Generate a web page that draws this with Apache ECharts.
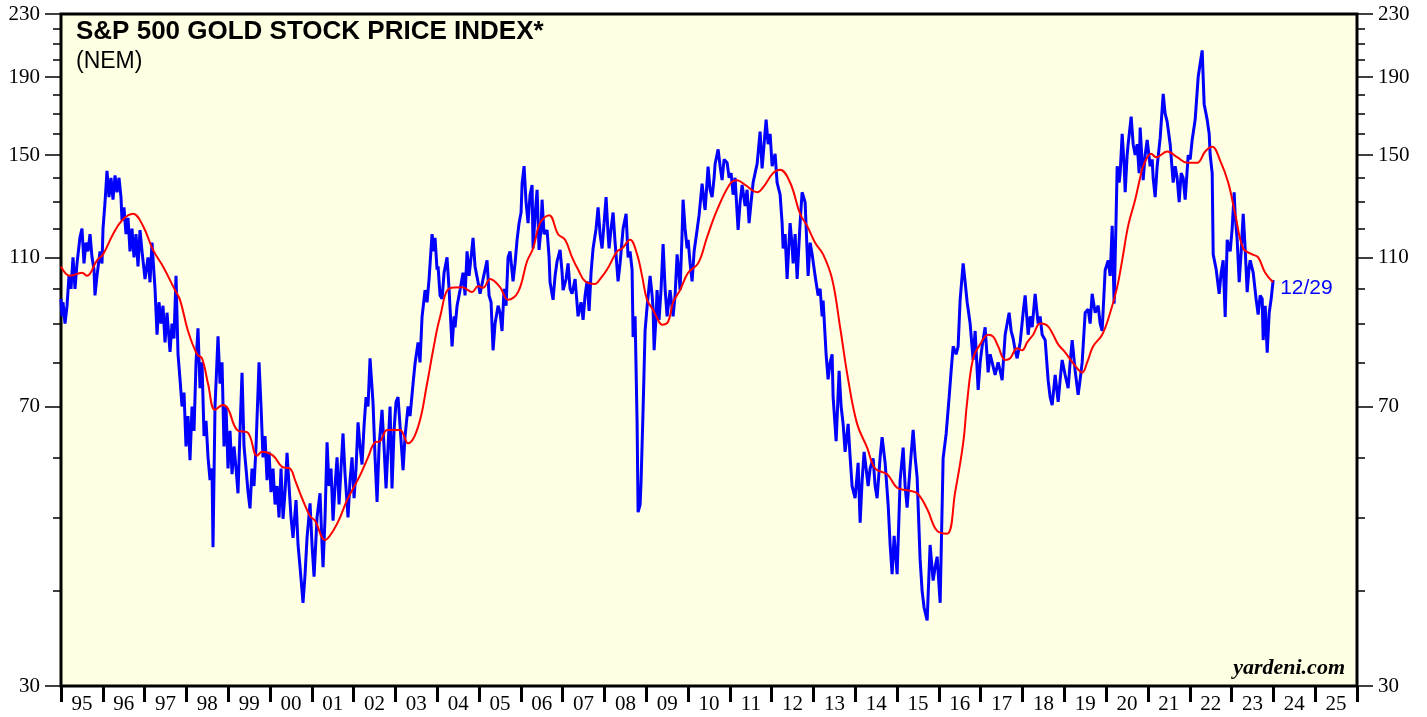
<!DOCTYPE html>
<html>
<head>
<meta charset="utf-8">
<script src="https://cdn.jsdelivr.net/npm/echarts@6.0.0/dist/echarts.min.js"></script>
<style>
html,body{margin:0;padding:0;background:#fff;}
#chart{width:1427px;height:717px;}
</style>
</head>
<body>
<div id="chart"></div>
<script>
// ---- DATA ----
const yearLabels = ['95','96','97','98','99','00','01','02','03','04','05','06','07','08','09','10','11','12','13','14','15','16','17','18','19','20','21','22','23','24','25'];
const yMajorTicks = [30, 70, 110, 150, 190, 230];
const yMinorTicks = [40, 50, 60, 80, 90, 100, 120, 130, 140, 160, 170, 180, 200, 210, 220];
const endLabelText = '12/29';

// S&P 500 Gold stock price index (blue), decimal-year dates
const blueDates = [
1995.000,1995.024,1995.048,1995.096,1995.144,1995.191,1995.239,1995.287,1995.335,1995.383,1995.455,1995.502,1995.550,1995.598,1995.646,1995.694,1995.742,1995.789,1995.813,1995.861,1995.933,1995.981,
1996.005,1996.053,1996.100,1996.148,1996.196,1996.244,1996.292,1996.340,1996.388,1996.435,1996.459,1996.507,1996.555,1996.603,1996.651,1996.698,1996.746,1996.794,1996.842,1996.890,1996.938,
1997.010,1997.081,1997.129,1997.177,1997.249,1997.297,1997.344,1997.392,1997.440,1997.488,1997.536,1997.608,1997.655,1997.703,1997.751,1997.799,1997.847,1997.895,1997.943,1997.990,
1998.038,1998.086,1998.134,1998.182,1998.230,1998.277,1998.325,1998.373,1998.421,1998.469,1998.517,1998.565,1998.612,1998.636,1998.684,1998.756,1998.804,1998.852,1998.899,1998.947,1998.995,
1999.043,1999.091,1999.139,1999.187,1999.234,1999.282,1999.330,1999.378,1999.426,1999.474,1999.521,1999.569,1999.617,1999.665,1999.737,1999.785,1999.832,1999.880,1999.928,1999.976,
2000.024,2000.072,2000.120,2000.167,2000.215,2000.263,2000.311,2000.359,2000.407,2000.455,2000.502,2000.550,2000.622,2000.670,2000.718,2000.766,2000.789,2000.837,2000.885,2000.957,
2001.005,2001.053,2001.124,2001.196,2001.244,2001.268,2001.316,2001.364,2001.411,2001.459,2001.507,2001.555,2001.603,2001.651,2001.698,2001.746,2001.794,2001.866,2001.914,2001.962,
2002.010,2002.057,2002.105,2002.153,2002.201,2002.249,2002.297,2002.344,2002.392,2002.440,2002.464,2002.512,2002.560,2002.608,2002.679,2002.727,2002.775,2002.823,2002.871,2002.918,2002.966,
2003.014,2003.062,2003.110,2003.182,2003.230,2003.301,2003.349,2003.421,2003.469,2003.541,2003.588,2003.636,2003.708,2003.756,2003.804,2003.875,2003.923,2003.947,2003.995,
2004.019,2004.067,2004.115,2004.163,2004.234,2004.282,2004.354,2004.402,2004.426,2004.474,2004.545,2004.617,2004.665,2004.713,2004.761,2004.809,2004.856,2004.904,2004.976,
2005.024,2005.096,2005.191,2005.239,2005.287,2005.335,2005.383,2005.455,2005.502,2005.550,2005.598,2005.646,2005.694,2005.742,2005.813,2005.861,2005.909,2005.957,
2006.005,2006.029,2006.077,2006.124,2006.172,2006.220,2006.268,2006.292,2006.340,2006.388,2006.435,2006.483,2006.507,2006.555,2006.627,2006.675,2006.698,2006.770,2006.818,2006.866,2006.938,2006.986,
2007.010,2007.081,2007.129,2007.177,2007.225,2007.297,2007.368,2007.440,2007.488,2007.536,2007.584,2007.632,2007.679,2007.727,2007.799,2007.847,2007.895,2007.942,2007.990,
2008.038,2008.086,2008.110,2008.158,2008.206,2008.254,2008.325,2008.373,2008.445,2008.517,2008.565,2008.612,2008.660,2008.684,2008.732,2008.780,2008.804,2008.852,2008.876,2008.923,2008.947,2008.971,
2009.019,2009.091,2009.139,2009.163,2009.187,2009.234,2009.258,2009.306,2009.354,2009.402,2009.450,2009.498,2009.569,2009.641,2009.689,2009.737,2009.785,2009.808,2009.856,2009.880,2009.928,2009.976,
2010.000,2010.048,2010.096,2010.144,2010.215,2010.263,2010.335,2010.383,2010.407,2010.478,2010.526,2010.574,2010.622,2010.646,2010.718,2010.766,2010.813,2010.861,2010.933,2010.981,
2011.029,2011.077,2011.124,2011.196,2011.244,2011.292,2011.364,2011.411,2011.459,2011.507,2011.555,2011.603,2011.651,2011.722,2011.770,2011.818,2011.866,2011.914,2011.962,
2012.010,2012.081,2012.129,2012.201,2012.249,2012.273,2012.321,2012.368,2012.440,2012.488,2012.512,2012.560,2012.608,2012.679,2012.727,2012.799,2012.871,2012.919,2012.967,
2013.038,2013.110,2013.158,2013.206,2013.230,2013.301,2013.349,2013.397,2013.445,2013.469,2013.541,2013.612,2013.660,2013.708,2013.756,2013.828,2013.876,2013.923,2013.995,
2014.067,2014.115,2014.163,2014.210,2014.258,2014.306,2014.354,2014.426,2014.474,2014.521,2014.593,2014.641,2014.713,2014.785,2014.833,2014.880,2014.928,
2015.000,2015.072,2015.144,2015.191,2015.239,2015.311,2015.383,2015.431,2015.478,2015.550,2015.598,2015.646,2015.718,2015.789,2015.861,2015.909,2015.957,
2016.029,2016.100,2016.172,2016.244,2016.292,2016.340,2016.411,2016.459,2016.507,2016.579,2016.627,2016.675,2016.746,2016.818,2016.866,2016.938,2016.986,
2017.033,2017.105,2017.177,2017.225,2017.273,2017.344,2017.416,2017.464,2017.512,2017.584,2017.632,2017.679,2017.727,2017.775,2017.823,2017.871,2017.943,
2018.014,2018.062,2018.134,2018.182,2018.230,2018.301,2018.373,2018.421,2018.469,2018.541,2018.612,2018.660,2018.708,2018.780,2018.852,2018.900,2018.947,
2019.019,2019.091,2019.139,2019.187,2019.258,2019.330,2019.378,2019.426,2019.498,2019.569,2019.617,2019.665,2019.737,2019.809,2019.856,2019.904,2019.976,
2020.048,2020.096,2020.144,2020.191,2020.239,2020.263,2020.311,2020.335,2020.383,2020.431,2020.455,2020.502,2020.526,2020.598,2020.646,2020.694,2020.742,2020.789,2020.813,2020.885,2020.933,2020.981,
2021.053,2021.100,2021.124,2021.172,2021.220,2021.292,2021.364,2021.411,2021.459,2021.531,2021.603,2021.651,2021.698,2021.746,2021.794,2021.842,2021.890,2021.962,
2022.010,2022.057,2022.129,2022.201,2022.249,2022.297,2022.344,2022.416,2022.464,2022.488,2022.536,2022.560,2022.632,2022.703,2022.751,2022.799,2022.847,2022.895,2022.967,
2023.014,2023.062,2023.086,2023.134,2023.182,2023.230,2023.278,2023.325,2023.373,2023.421,2023.445,2023.517,2023.589,2023.636,2023.684,2023.732,2023.756,2023.804,2023.852,2023.900,2023.947,2023.995
];
const blueValues = [
97,92,96,90,95,104,100,110,100,108,117,120,108,115,112,118,110,106,98,104,112,108,
120,130,143,132,140,131,141,134,140,132,123,128,118,124,112,120,110,118,107,119.5,112,
103,110,102,115,100,87,96,90,95,85,93,82.6,90,86,104,82,76,70,73,62,
68,59.5,70,65,80,88.7,74,80,64,67,60,56,58,45.7,70,86.6,75,80,62,70,58,
65,57,62,58,53.8,65,77.5,62,58,54,51.4,58,55,62,80,70,60,64,56,61,
54,58,52,55,50,58,49.8,54,60.8,55,50,47,52.7,46,43,40,38.6,42,47,52.2,
46,41.8,50,53.8,46,43,50,62.8,55,58,49.5,55,60,52,58,64.5,57,50,56,60,
53,58,66.7,62,58.7,66,72,70,81,74,70.7,60,52.4,62,69.3,62,54.6,62,70,54.6,65,
71,72,66,57.7,64,70,68,75,79.8,85,80,91.8,99.6,96,103,118,112,116.7,106,
107,98,97,105,110,100,84,92,89,95,99.6,105,98,112,104,110,116.7,107,102,
98.5,103,109,98,96,83,90,95,93,88,100,95,110,112,102.3,108,116,122,
126,137.5,145,130,122,133,137,113,125,135,112.5,120,131,118,119.5,110,102,96.7,104,108.7,112.5,105,
99.6,103,108,100,98.5,103,92,96,91,98,102.3,93.5,105,113,120,128,118,113,122,
132,118,113,120,126,115,102.3,108,120,125.5,110,112,106,86.4,92,66.6,50.8,52,56,69.3,78,88,
94.7,104,98,94,83,92,99.6,91,100,114.5,100,92,99.6,92,98,111,104,99.6,118,131,120,113,
116,108,102.3,112,119.5,125,137.5,130,127,144.8,135,132,140,146,152.6,145,139,148,146.5,140,
142,133,140,119.5,130,137,128.5,135,122,130,138,142,146,161,144,155,167,155,160,
145,150.5,138,133,122,113,118,103,122,114,108,118,103,122,134,130,104,115,111,
104,98,100,92,96.5,82,76,80,82,72,63,78,70,66.4,61,66.4,60,55,53,
59,49.2,56,61,58,55,58,59.8,55,53,60,63.8,59,52,46,42.1,47.3,
42.1,56,61.8,55,51.5,58.3,65.2,60,56.5,44,40,38,36.6,46,41.3,43,44.4,
38.6,59.8,64.4,72,78,84,82,84,96.7,108,102,96,90,80.6,88,73.6,80,
84,89,77.6,82,80,77,80,78,75.8,87,90,93,88,86,83,81,85,
93,98,87,92,89,98.5,90,92,87,85.6,75.8,72,70.3,77,71,76,80.6,
77,74,80,85.6,78,72.5,76,80,93,94,90,98.5,93,95,90,88,105.8,
109,104,121,95.6,125,145,138,142,160,145,134,150,155,168.5,155,150,155,142,163,139,150,157,
145,148,140,132,145,158,180.5,170,166,155,138,145,140,130,142,140,131,150,
148,157,167,190,198,206,175,167,160,150,142,111,106,98.5,105,109,91.8,116,112,
120,134,125,116,102,112,125.5,113,99,107,109,105,96.7,92.5,98,97,85.6,95,82.4,93,97,102.7
];

// 52-week moving average (red)
const redDates = [
1995.000,1995.215,1995.502,1995.622,1995.861,
1996.005,1996.244,1996.459,1996.722,1996.962,
1997.201,1997.440,1997.727,1997.847,
1998.038,1998.254,1998.373,1998.517,1998.684,1998.876,1998.995,
1999.210,1999.474,1999.689,1999.809,
2000.072,2000.287,2000.478,2000.598,2000.766,2000.957,
2001.077,2001.316,2001.507,2001.675,2001.842,
2002.153,2002.344,2002.512,2002.632,2002.799,2002.990,
2003.110,2003.301,2003.541,2003.756,2003.900,
2004.067,2004.306,2004.593,2004.833,2004.976,
2005.096,2005.263,2005.502,2005.694,2005.933,
2006.148,2006.292,2006.459,2006.675,2006.890,
2007.057,2007.225,2007.368,2007.536,2007.775,2007.895,
2008.062,2008.301,2008.421,2008.612,2008.780,2008.899,
2009.019,2009.163,2009.282,2009.378,2009.522,2009.641,2009.808,
2010.000,2010.239,2010.455,2010.694,
2011.005,2011.172,2011.364,2011.651,2011.794,
2012.033,2012.201,2012.440,2012.679,2012.847,
2013.038,2013.230,2013.445,2013.636,2013.828,
2014.043,2014.282,2014.474,2014.761,
2015.000,2015.239,2015.478,2015.718,2015.957,
2016.196,2016.388,2016.579,2016.675,2016.818,2016.986,
2017.177,2017.297,2017.416,2017.584,2017.703,2017.871,2017.990,
2018.110,2018.254,2018.421,2018.589,2018.732,2018.852,
2019.019,2019.211,2019.426,2019.545,2019.689,2019.904,
2020.096,2020.263,2020.383,2020.526,2020.694,2020.813,2020.885,
2021.077,2021.196,2021.459,2021.698,2021.938,
2022.177,2022.368,2022.536,2022.727,2022.919,
2023.086,2023.278,2023.493,2023.636,2023.804,2023.995
];
const redValues = [
107,104,105,104,109,
111,118,123,125.5,121,
112.5,107,99.6,96.7,
88,82,81,75,69.3,70.3,69.5,
65.2,64.6,60.3,61,
60.3,58.3,58,56,53,50.2,
49.5,46.7,48,50,52.7,
56.8,60,62.8,63,65.2,65.2,
65.2,62.6,65.8,75,83,
91.8,100.2,100.5,99,100.8,
100.3,103,100.5,96.7,99,
108.7,113,122,125,118,
116,110,106,102.3,101.5,103,
106,112,113,116,111,104,
96.7,93.8,91,89.7,90.5,96,99.6,
105,108,117,127,
137.5,139,137,134,136,
142,143.4,138,125.5,121,
115,111,103,89,76,
66.4,61.8,58,57,
54.7,54.3,53.8,51.3,48,
47.6,54,62.6,71,81,84.5,
87,86.5,84,80.6,81,83.5,83,
85,87,90,89.5,87,84.5,
82.5,79.8,77.6,80,84,87,
93,100.5,109,121,131,140,145,
150.6,149,151.6,149,146.5,
146.5,151.6,153.8,147.5,138,
125.5,113,111,110,105,102
];

// ---- BUILD ----
const blueData = blueDates.map((d, i) => [d, blueValues[i]]);
const redData = redDates.map((d, i) => [d, redValues[i]]);
const firstYear = 1995;
const yearTickValues = [];
for (let i = 0; i <= yearLabels.length; i++) yearTickValues.push(firstYear + i);
const yearLabelValues = yearLabels.map((_, i) => firstYear + i + 0.5);

const serif = '"Liberation Serif", "Times New Roman", serif';
const sans = '"Liberation Sans", Arial, sans-serif';

function yAxisDef(position, ticks, len, withLabels) {
  return {
    type: 'log', logBase: 10, min: 30, max: 230, position: position,
    axisLine: { show: false },
    splitLine: { show: false },
    minorTick: { show: false },
    axisTick: { show: true, inside: false, customValues: ticks, length: len,
      lineStyle: { color: '#000', width: 1.5 } },
    axisLabel: withLabels ? { show: true, customValues: ticks, margin: 21,
      fontFamily: serif, fontSize: 21, color: '#000',
      formatter: v => String(Math.round(v)) } : { show: false }
  };
}

const chart = echarts.init(document.getElementById('chart'), null, { renderer: 'canvas' });
chart.setOption({
  animation: false,
  backgroundColor: '#ffffff',
  grid: { left: 61, right: 70, top: 14, bottom: 31, show: true,
    backgroundColor: '#FFFFE4', borderColor: '#000', borderWidth: 3,
    containLabel: false, outerBoundsMode: 'none' },
  xAxis: {
    type: 'value', min: 1995, max: 2026, interval: 1,
    axisLine: { show: false }, splitLine: { show: false },
    axisTick: { show: true, customValues: yearTickValues, length: 16,
      lineStyle: { color: '#000', width: 3 } },
    axisLabel: { customValues: yearLabelValues, margin: 8,
      fontFamily: serif, fontSize: 21, color: '#000',
      formatter: v => yearLabels[Math.round(v - firstYear - 0.5)] }
  },
  yAxis: [
    yAxisDef('left', yMajorTicks, 16, true),
    yAxisDef('left', yMinorTicks, 8, false),
    yAxisDef('right', yMajorTicks, 16, true),
    yAxisDef('right', yMinorTicks, 8, false)
  ],
  series: [
    { type: 'line', name: 'index', data: blueData, yAxisIndex: 0,
      showSymbol: false, symbol: 'none', z: 2,
      lineStyle: { color: '#0000FF', width: 3 },
      endLabel: { show: true, formatter: endLabelText, color: '#0000FF',
        fontFamily: sans, fontSize: 21, distance: 7, offset: [0, 8] } },
    { type: 'line', name: 'ma', data: redData, yAxisIndex: 0,
      showSymbol: false, symbol: 'none', smooth: 0.4, z: 3,
      lineStyle: { color: '#FF0000', width: 2 } }
  ],
  graphic: [
    { type: 'text', left: 76, top: 19, z: 100,
      style: { text: 'S&P 500 GOLD STOCK PRICE INDEX*', font: 'bold 26px ' + sans, fill: '#000' } },
    { type: 'text', left: 76, top: 50, z: 100,
      style: { text: '(NEM)', font: '23px ' + sans, fill: '#000' } },
    { type: 'text', right: 82, top: 657, z: 100,
      style: { text: 'yardeni.com', font: 'italic bold 22px ' + serif, fill: '#000' } }
  ]
});
</script>
</body>
</html>
